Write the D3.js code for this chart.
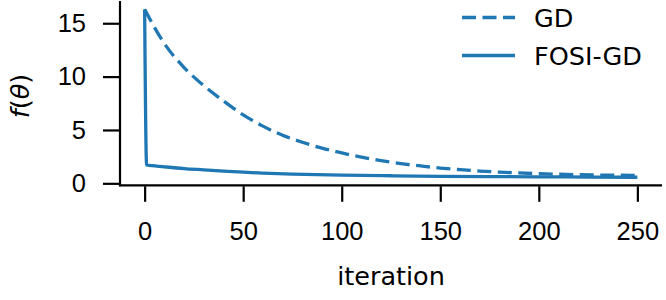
<!DOCTYPE html>
<html>
<head>
<meta charset="utf-8">
<script src="https://cdn.jsdelivr.net/npm/d3@7"></script>
<style>
  body { margin: 0; background: #fff; }
  svg { display: block; font-family: "DejaVu Sans", sans-serif; }
</style>
</head>
<body>
<div id="chart"></div>
<script>
// values
var gdIter = [0, 10, 20, 30, 40, 50, 60, 70, 80, 90, 100, 110, 120, 130, 140, 150, 160, 170, 180, 190, 200, 210, 220, 230, 240, 250];
var gdLoss = [16.3, 13.1, 10.85, 9.15, 7.72, 6.42, 5.36, 4.5, 3.85, 3.3, 2.85, 2.46, 2.13, 1.84, 1.63, 1.43, 1.28, 1.15, 1.05, 0.97, 0.9, 0.85, 0.81, 0.78, 0.76, 0.74];

var fosiIter = [0, 1, 10, 20, 30, 40, 50, 60, 75, 100, 125, 150, 175, 200, 225, 250];
var fosiLoss = [16.3, 1.72, 1.55, 1.38, 1.26, 1.14, 1.04, 0.96, 0.87, 0.77, 0.71, 0.66, 0.63, 0.61, 0.59, 0.57];

var xTicks = [0, 50, 100, 150, 200, 250];
var yTicks = [0, 5, 10, 15];
var seriesNames = ["GD", "FOSI-GD"];

var W = 666, H = 300;
var plotL = 120, plotR = 662, plotT = 1, plotB = 185.3;
var blue = "#1f77b4";
var fs = "25.5px";
var dash = "14,6.5";

var svg = d3.select("#chart").append("svg")
    .attr("width", W)
    .attr("height", H);

var x = d3.scaleLinear().domain([-12.5, 262.5]).range([plotL, plotR]);
var y = d3.scaleLinear().domain([-0.185, 17.085]).range([plotB, plotT]);

// axes
var xAxis = svg.append("g")
    .attr("transform", "translate(0," + (plotB + 1) + ")")
    .call(d3.axisBottom(x).tickValues(xTicks).tickSize(15.5).tickPadding(38).tickFormat(d3.format("d")));
xAxis.select(".domain").remove();

var yAxis = svg.append("g")
    .attr("transform", "translate(" + plotL + ",0)")
    .call(d3.axisLeft(y).tickValues(yTicks).tickSize(17).tickPadding(17).tickFormat(d3.format("d")));
yAxis.select(".domain").remove();

svg.selectAll(".tick line").attr("stroke", "#000").attr("stroke-width", 2.2);
svg.selectAll(".tick text").attr("fill", "#000").style("font-size", fs);
xAxis.selectAll(".tick text").attr("dy", 0);

// spines (left and bottom only)
svg.append("line").attr("x1", plotL).attr("x2", plotL).attr("y1", plotT).attr("y2", plotB + 1)
    .attr("stroke", "#000").attr("stroke-width", 2.2);
svg.append("line").attr("x1", plotL - 1).attr("x2", plotR).attr("y1", plotB).attr("y2", plotB)
    .attr("stroke", "#000").attr("stroke-width", 2.2);

// lines
var gdLine = d3.line()
    .x(function (d, i) { return x(gdIter[i]); })
    .y(function (d) { return y(d); })
    .curve(d3.curveMonotoneX);
var fosiLine = d3.line()
    .x(function (d, i) { return x(fosiIter[i]); })
    .y(function (d) { return y(d); })
    .curve(d3.curveMonotoneX);

svg.append("path")
    .attr("d", gdLine(gdLoss))
    .attr("fill", "none")
    .attr("stroke", blue)
    .attr("stroke-width", 3.3)
    .attr("stroke-dasharray", dash);

svg.append("path")
    .attr("d", fosiLine(fosiLoss))
    .attr("fill", "none")
    .attr("stroke", blue)
    .attr("stroke-width", 3.3)
    .attr("stroke-linejoin", "miter");

// axis labels
svg.append("text")
    .attr("x", (plotL + plotR) / 2)
    .attr("y", 285)
    .attr("text-anchor", "middle")
    .style("font-size", fs)
    .text("iteration");

var yl = svg.append("text")
    .attr("transform", "translate(29,96) rotate(-90)")
    .attr("text-anchor", "middle")
    .style("font-size", fs);
yl.append("tspan").style("font-style", "italic").text("f");
yl.append("tspan").text("(");
yl.append("tspan").style("font-style", "italic").text("θ");
yl.append("tspan").text(")");

// legend
var legend = svg.append("g");
seriesNames.forEach(function (name, i) {
    var ly = 17.5 + i * 38;
    legend.append("line")
        .attr("x1", 462).attr("x2", 515)
        .attr("y1", ly).attr("y2", ly)
        .attr("stroke", blue)
        .attr("stroke-width", 3.3)
        .attr("stroke-dasharray", i === 0 ? dash : null);
    legend.append("text")
        .attr("x", 534)
        .attr("y", ly)
        .attr("dy", "0.36em")
        .style("font-size", fs)
        .text(name);
});
</script>
</body>
</html>
